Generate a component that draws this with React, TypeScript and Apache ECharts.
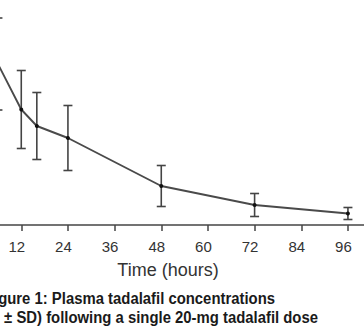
import React, { useEffect, useRef } from "react";
import * as echarts from "echarts";

// Time after dose (hours)
const hours = [6, 12, 16, 24, 48, 72, 96];
// Mean plasma tadalafil concentration (ng/mL, estimated)
const meanConc = [322, 231, 198, 174, 78, 40, 23];
// Standard deviation (ng/mL, estimated)
const sdConc = [92, 78, 67, 65, 41, 23, 12];
// X tick labels
const xTicks = [0, 12, 24, 36, 48, 60, 72, 84, 96, 108];

const xTitle = "Time (hours)";
const captionLine1 = "Figure 1: Plasma tadalafil concentrations";
const captionLine2 = "(mean \u00b1 SD) following a single 20-mg tadalafil dose";

const SHIFT = 60; // chart div starts 60px left of the page

export default function App() {
  const ref = useRef<HTMLDivElement>(null);
  useEffect(() => {
    if (!ref.current) return;
    const chart = echarts.init(ref.current, undefined, { renderer: "svg" });
    const lineData = hours.map((h, i) => [h, meanConc[i]]);
    const errData = hours.map((h, i) => [h, meanConc[i] - sdConc[i], meanConc[i] + sdConc[i]]);
    const capFont = "Liberation Sans, Arial, sans-serif";
    chart.setOption({
      animation: false,
      backgroundColor: "#ffffff",
      grid: { left: 34.6, right: 29.4, top: 0, bottom: 104, containLabel: false },
      xAxis: {
        type: "value",
        min: xTicks[0],
        max: xTicks[xTicks.length - 1],
        interval: 12,
        axisLine: { show: true, lineStyle: { color: "#444", width: 1.5 } },
        axisTick: { show: true, length: 6, lineStyle: { color: "#444", width: 1.5 } },
        axisLabel: {
          show: true,
          showMinLabel: false,
          showMaxLabel: false,
          fontSize: 15,
          color: "#333",
          fontFamily: "Liberation Sans, Arial, sans-serif",
          margin: 14,
          padding: [0, 9, 0, 0],
        },
        splitLine: { show: false },
      },
      yAxis: {
        type: "value",
        min: 0,
        max: 450,
        show: false,
        splitLine: { show: false },
      },
      series: [
        {
          type: "line",
          data: lineData,
          symbol: "circle",
          symbolSize: 4,
          showSymbol: true,
          lineStyle: { color: "#4a4a4a", width: 1.9 },
          itemStyle: { color: "#111" },
          z: 3,
        },
        {
          type: "custom",
          data: errData,
          z: 2,
          renderItem: (params: any, api: any) => {
            const x = api.value(0);
            const lo = api.coord([x, api.value(1)]);
            const hi = api.coord([x, api.value(2)]);
            const hw = 4.5;
            const style = { stroke: "#444", lineWidth: 1.6 };
            return {
              type: "group",
              children: [
                { type: "line", shape: { x1: lo[0], y1: lo[1], x2: hi[0], y2: hi[1] }, style },
                { type: "line", shape: { x1: hi[0] - hw, y1: hi[1], x2: hi[0] + hw, y2: hi[1] }, style },
                { type: "line", shape: { x1: lo[0] - hw, y1: lo[1], x2: lo[0] + hw, y2: lo[1] }, style },
              ],
            };
          },
        },
      ],
      graphic: [
        {
          type: "text",
          x: 168 + SHIFT,
          y: 269.5,
          style: {
            text: xTitle,
            align: "center",
            verticalAlign: "middle",
            fontSize: 18,
            fill: "#333",
            fontFamily: "Liberation Sans, Arial, sans-serif",
          },
        },
        {
          type: "text",
          x: 275 + SHIFT,
          y: 298.5,
          scaleX: 0.875,
          style: {
            text: captionLine1,
            align: "right",
            verticalAlign: "middle",
            fontSize: 17,
            fontWeight: "bold",
            fill: "#1a1a1a",
            fontFamily: capFont,
          },
        },
        {
          type: "text",
          x: 318 + SHIFT,
          y: 317.5,
          scaleX: 0.875,
          style: {
            text: captionLine2,
            align: "right",
            verticalAlign: "middle",
            fontSize: 17,
            fontWeight: "bold",
            fill: "#1a1a1a",
            fontFamily: capFont,
          },
        },
      ],
    });
    return () => chart.dispose();
  }, []);
  return (
    <div
      style={{
        position: "absolute",
        left: 0,
        top: 0,
        width: 364,
        height: 329,
        overflow: "hidden",
        background: "#fff",
      }}
    >
      <div
        ref={ref}
        style={{ position: "absolute", left: -SHIFT, top: 0, width: 364 + SHIFT + 60, height: 329 }}
      />
    </div>
  );
}
